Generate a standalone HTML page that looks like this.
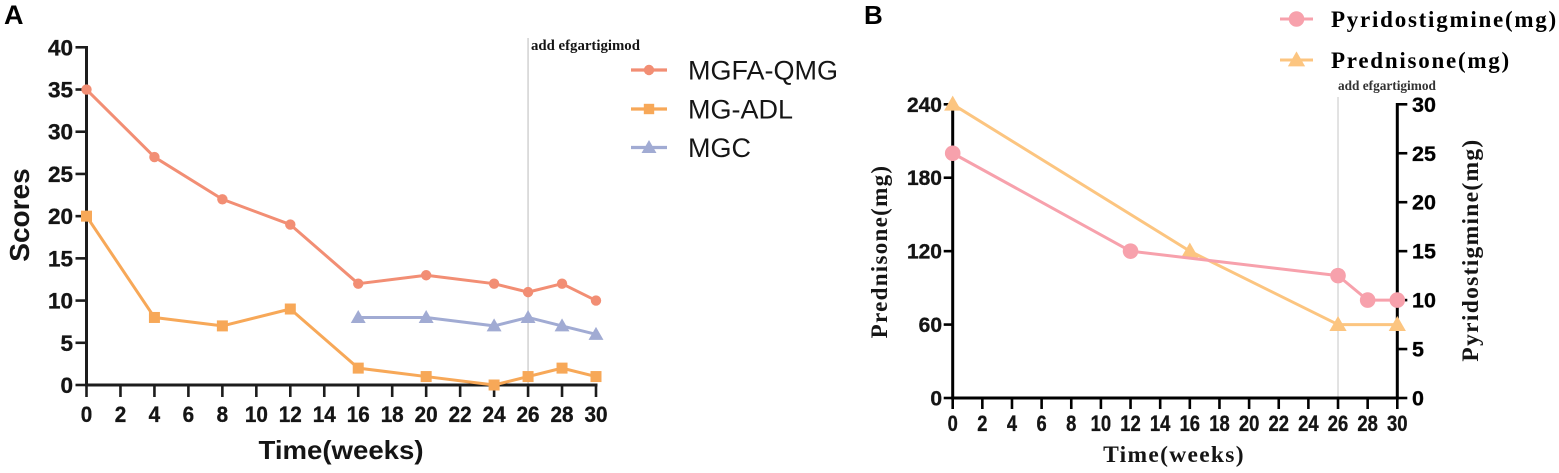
<!DOCTYPE html>
<html>
<head>
<meta charset="utf-8">
<style>
html,body{margin:0;padding:0;background:#fff;}
svg{display:block;}
text{fill:#151515;}
</style>
</head>
<body>
<svg id="chart" xmlns="http://www.w3.org/2000/svg" width="1559" height="473" viewBox="0 0 1559 473"></svg>
<script>
// Panel A data
const aWeeks = [0, 4, 8, 12, 16, 20, 24, 26, 28, 30];
const aQmg = [35, 27, 22, 19, 12, 13, 12, 11, 12, 10];
const aAdl = [20, 8, 7, 9, 2, 1, 0, 1, 2, 1];
const aMgcWeeks = [16, 20, 24, 26, 28, 30];
const aMgc = [8, 8, 7, 8, 7, 6];
const aXTicks = [0, 2, 4, 6, 8, 10, 12, 14, 16, 18, 20, 22, 24, 26, 28, 30];
const aYTicks = [0, 5, 10, 15, 20, 25, 30, 35, 40];
const aEventWeek = 26;

// Panel B data
const bPyrWeeks = [0, 12, 26, 28, 30];
const bPyr = [25, 15, 12.5, 10, 10];
const bPredWeeks = [0, 16, 26, 30];
const bPred = [240, 120, 60, 60];
const bXTicks = [0, 2, 4, 6, 8, 10, 12, 14, 16, 18, 20, 22, 24, 26, 28, 30];
const bLeftTicks = [0, 60, 120, 180, 240];
const bRightTicks = [0, 5, 10, 15, 20, 25, 30];
const bEventWeek = 26;

const NS = 'http://www.w3.org/2000/svg';
const svg = document.getElementById('chart');
const SANS = '"Liberation Sans", Arial, sans-serif';
const SERIF = '"Liberation Serif", "Times New Roman", serif';

function make(tag, attrs, name, parent) {
  const el = document.createElementNS(NS, tag);
  for (const k in attrs) el.setAttribute(k, attrs[k]);
  
  
  (parent || svg).appendChild(el);
  return el;
}
function label(str, x, y, size, family, anchor, name, extra) {
  const attrs = Object.assign({x: x, y: y, 'font-size': size, 'font-family': family, 'font-weight': 'bold', 'text-anchor': anchor}, extra || {});
  const t = make('text', attrs, name);
  t.textContent = str;
  return t;
}
function vlabel(str, x, y, size, family, name, extra) {
  const attrs = Object.assign({transform: 'translate(' + x + ',' + y + ') rotate(-90)', 'font-size': size, 'font-family': family, 'font-weight': 'bold', 'text-anchor': 'middle'}, extra || {});
  const t = make('text', attrs, name);
  t.textContent = str;
  return t;
}
function linear(d0, d1, r0, r1) {
  return function (v) { return r0 + (v - d0) * (r1 - r0) / (d1 - d0); };
}
function line(x1, y1, x2, y2, color, w, name) {
  return make('line', {x1: x1, y1: y1, x2: x2, y2: y2, stroke: color, 'stroke-width': w}, name);
}
function marker(kind, cx, cy, r, color, name) {
  if (kind === 'circle') return make('circle', {cx: cx, cy: cy, r: r, fill: color}, name);
  if (kind === 'square') return make('rect', {x: cx - r, y: cy - r, width: 2 * r, height: 2 * r, fill: color}, name);
  const pts = (cx - r * 1.15) + ',' + (cy + r * 0.85) + ' ' + (cx + r * 1.15) + ',' + (cy + r * 0.85) + ' ' + cx + ',' + (cy - r * 1.15);
  return make('polygon', {points: pts, fill: color}, name);
}
function series(xs, ys, sx, sy, color, w, kind, r, name) {
  const pts = xs.map(function (x, i) { return sx(x) + ',' + sy(ys[i]); }).join(' ');
  make('polyline', {points: pts, fill: 'none', stroke: color, 'stroke-width': w, 'stroke-linejoin': 'round'}, name + '-line');
  xs.forEach(function (x, i) {
    marker(kind, sx(x), sy(ys[i]), r, color, name + '-marker-' + x);
  });
}

// ---------- Panel A ----------
const ax = linear(0, 30, 86.5, 596);
const ay = linear(0, 40, 385, 47.3);
const AXC = '#1c1c1c';
const BOLDER = {stroke: '#151515', 'stroke-width': 0.35};
label('A', 4, 24, 27, SANS, 'start', 'panel-a-label', {style: 'fill:#000'});

line(ax(aEventWeek), 38, ax(aEventWeek), 394, '#cfcfcf', 1.4, 'panel-a-event-line');
label('add efgartigimod', 531, 50, 14.8, SERIF, 'start', 'panel-a-event-label');

line(ax(0), 46, ax(0), 386.5, AXC, 3, 'panel-a-y-axis');
line(ax(0) - 1.5, 385, ax(30) + 1.5, 385, AXC, 3, 'panel-a-x-axis');
aYTicks.forEach(function (v) {
  line(ax(0) - 11, ay(v), ax(0), ay(v), AXC, 2.6, 'panel-a-y-tick-' + v);
  label(String(v), 73, ay(v) + 8, 22.5, SANS, 'end', 'panel-a-y-tick-label-' + v, BOLDER);
});
aXTicks.forEach(function (v) {
  line(ax(v), 385, ax(v), 397, AXC, 2.6, 'panel-a-x-tick-' + v);
  label(String(v), ax(v), 422, 22.5, SANS, 'middle', 'panel-a-x-tick-label-' + v, Object.assign({textLength: String(v).length > 1 ? 23 : 11.5, lengthAdjust: 'spacingAndGlyphs'}, BOLDER));
});
vlabel('Scores', 29, 215, 28, SANS, 'panel-a-y-title');
label('Time(weeks)', 341, 459, 26, SANS, 'middle', 'panel-a-x-title', {textLength: 165, lengthAdjust: 'spacingAndGlyphs'});

const cQmg = '#f28e74', cAdl = '#f7a858', cMgc = '#a1abd3';
series(aWeeks, aQmg, ax, ay, cQmg, 3, 'circle', 5.2, 'mgfa-qmg');
series(aWeeks, aAdl, ax, ay, cAdl, 3, 'square', 5.5, 'mg-adl');
series(aMgcWeeks, aMgc, ax, ay, cMgc, 3, 'triangle', 6.5, 'mgc');

[['MGFA-QMG', 70, cQmg, 'circle', 5.2], ['MG-ADL', 109, cAdl, 'square', 5.2], ['MGC', 147.5, cMgc, 'triangle', 6.5]].forEach(function (e) {
  const n = e[0].toLowerCase();
  line(631, e[1], 667, e[1], e[2], 3.2, 'legend-line-' + n);
  marker(e[3], 649, e[1], e[4], e[2], 'legend-marker-' + n);
  make('text', {x: 688, y: e[1] + 9.5, 'font-size': 27, 'font-family': SANS}, 'legend-label-' + n).textContent = e[0];
});

// ---------- Panel B ----------
const bx = linear(0, 30, 952.7, 1397.3);
const byL = linear(0, 240, 398, 104.3);
const byR = linear(0, 30, 398, 104.3);
const BXC = '#000000';
label('B', 864, 24, 26, SANS, 'start', 'panel-b-label', {style: 'fill:#000'});

line(bx(bEventWeek), 97, bx(bEventWeek), 398, '#cfcfcf', 1.2, 'panel-b-event-line');
label('add efgartigimod', 1338, 90, 13.3, SERIF, 'start', 'panel-b-event-label', {style: 'fill:#333'});

line(bx(0), 104, bx(0), 399.5, BXC, 3, 'panel-b-left-axis');
line(bx(30), 103, bx(30), 399.5, BXC, 3, 'panel-b-right-axis');
line(bx(0) - 1.5, 398, bx(30) + 1.5, 398, BXC, 3, 'panel-b-x-axis');
bLeftTicks.forEach(function (v) {
  line(bx(0) - 9, byL(v), bx(0), byL(v), BXC, 2.6, 'panel-b-left-tick-' + v);
  label(String(v), 942, byL(v) + 7.5, 21, SANS, 'end', 'panel-b-left-tick-label-' + v, BOLDER);
});
bRightTicks.forEach(function (v) {
  line(bx(30), byR(v), bx(30) + 10, byR(v), BXC, 2.6, 'panel-b-right-tick-' + v);
  label(String(v), 1412, byR(v) + 7.5, 21.5, SANS, 'start', 'panel-b-right-tick-label-' + v, Object.assign({style: 'fill:#000'}, BOLDER));
});
bXTicks.forEach(function (v) {
  line(bx(v), 398, bx(v), 409, BXC, 2.6, 'panel-b-x-tick-' + v);
  label(String(v), bx(v), 431, 22, SANS, 'middle', 'panel-b-x-tick-label-' + v, Object.assign({textLength: String(v).length > 1 ? 20.5 : 10.2, lengthAdjust: 'spacingAndGlyphs'}, BOLDER));
});
vlabel('Prednisone(mg)', 887, 251.5, 23, SERIF, 'panel-b-left-title', {'letter-spacing': '1.3'});
vlabel('Pyridostigmine(mg)', 1478, 250, 23.5, SERIF, 'panel-b-right-title', {'letter-spacing': '1.3'});
label('Time(weeks)', 1174, 462, 23.5, SERIF, 'middle', 'panel-b-x-title', {'letter-spacing': '1.3'});

const cPyr = '#f7a1ac', cPred = '#fcc580';
series(bPredWeeks, bPred, bx, byL, cPred, 3, 'triangle', 7.5, 'prednisone');
series(bPyrWeeks, bPyr, bx, byR, cPyr, 3, 'circle', 7.8, 'pyridostigmine');

[['Pyridostigmine(mg)', 19, cPyr, 'circle', 7.8], ['Prednisone(mg)', 60, cPred, 'triangle', 7.5]].forEach(function (e) {
  const n = e[0].split('(')[0].toLowerCase();
  line(1280, e[1], 1313, e[1], e[2], 3, 'legend-line-' + n);
  marker(e[3], 1296.5, e[1], e[4], e[2], 'legend-marker-' + n);
  make('text', {x: 1331, y: e[1] + 8, 'font-size': 23, 'font-family': SERIF, 'font-weight': 'bold', 'letter-spacing': '1.75', style: 'fill:#000'}, 'legend-label-' + n).textContent = e[0];
});
</script>
</body>
</html>
